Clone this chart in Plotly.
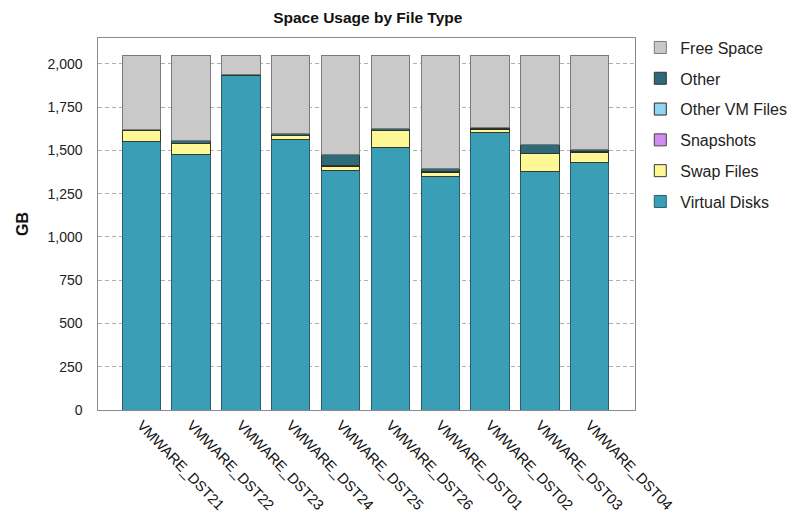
import plotly.graph_objects as go

# Datastores and space usage per file type (GB)
datastores = ["VMWARE_DST21", "VMWARE_DST22", "VMWARE_DST23", "VMWARE_DST24", "VMWARE_DST25",
              "VMWARE_DST26", "VMWARE_DST01", "VMWARE_DST02", "VMWARE_DST03", "VMWARE_DST04"]
virtual_disks = [1549, 1474, 1931, 1561, 1387, 1520, 1347, 1604, 1376, 1431]
swap_files = [64, 64, 2, 23, 23, 93, 25, 17, 104, 60]
snapshots = [0, 0, 0, 0, 0, 0, 0, 0, 0, 0]
other_vm_files = [4, 4, 2, 4, 4, 4, 4, 4, 4, 4]
other = [6, 13, 3, 9, 64, 11, 17, 9, 48, 12]
free_space = [425, 493, 110, 451, 570, 420, 655, 414, 516, 541]

y_ticks = [0, 250, 500, 750, 1000, 1250, 1500, 1750, 2000]
y_tick_text = ["0", "250", "500", "750", "1,000", "1,250", "1,500", "1,750", "2,000"]

# (name, values, fill, edge) in stacking order, bottom to top
series = [
    ("Virtual Disks", virtual_disks, "#3a9fb6", "#2b5e6a"),
    ("Swap Files", swap_files, "#fdf796", "#3a3a2a"),
    ("Snapshots", snapshots, "#d48cf0", "#444444"),
    ("Other VM Files", other_vm_files, "#8fd4f2", "#2a2a2a"),
    ("Other", other, "#2e6b78", "#333333"),
    ("Free Space", free_space, "#c9c9c9", "#7a7a7a"),
]

fig = go.Figure()
for i, (name, vals, color, edge) in enumerate(series):
    fig.add_trace(go.Bar(
        name=name, x=datastores, y=vals, width=0.77,
        marker=dict(color=color, line=dict(color=edge, width=1)),
        legendgroup=name, legendrank=len(series) - i,
    ))

font_family = "Liberation Sans, Arial, sans-serif"
# invisible trailing glyphs keep the value labels clear of the axis line
label_gap = "<span style='color:rgba(0,0,0,0)'>0.</span>"

fig.update_layout(
    barmode="stack",
    width=803, height=529,
    margin=dict(l=98, r=167, t=38, b=119),
    paper_bgcolor="white", plot_bgcolor="white",
    font=dict(family=font_family, size=14, color="#222222"),
    title=dict(text="<b>Space Usage by File Type</b>", x=0.458, xanchor="center",
               y=0.966, yanchor="middle", font=dict(size=15.5, color="#111111")),
    legend=dict(traceorder="grouped", x=1.008, xanchor="left", y=1.02, yanchor="top",
                font=dict(size=16, color="#222222"), tracegroupgap=7,
                bgcolor="rgba(0,0,0,0)", itemwidth=30),
    bargap=0.2,
)

fig.update_xaxes(
    type="category", range=[-0.87, 9.91],
    tickangle=46, tickfont=dict(size=14.5, color="#111111"),
    showline=True, linecolor="#8a8a8a", linewidth=1, mirror=True,
    ticks="", showgrid=False,
)
fig.update_yaxes(
    range=[0, 2150], tickvals=y_ticks, ticktext=[t + label_gap for t in y_tick_text],
    tickfont=dict(size=14, color="#222222"), ticks="",
    title=dict(text="<b>GB</b>", font=dict(size=16, color="#111111"), standoff=14),
    showline=True, linecolor="#8a8a8a", linewidth=1, mirror=True,
    showgrid=True, gridcolor="#b0b0b0", gridwidth=1, griddash="4px,3px",
    zeroline=False,
)

fig.write_html("out.html")
